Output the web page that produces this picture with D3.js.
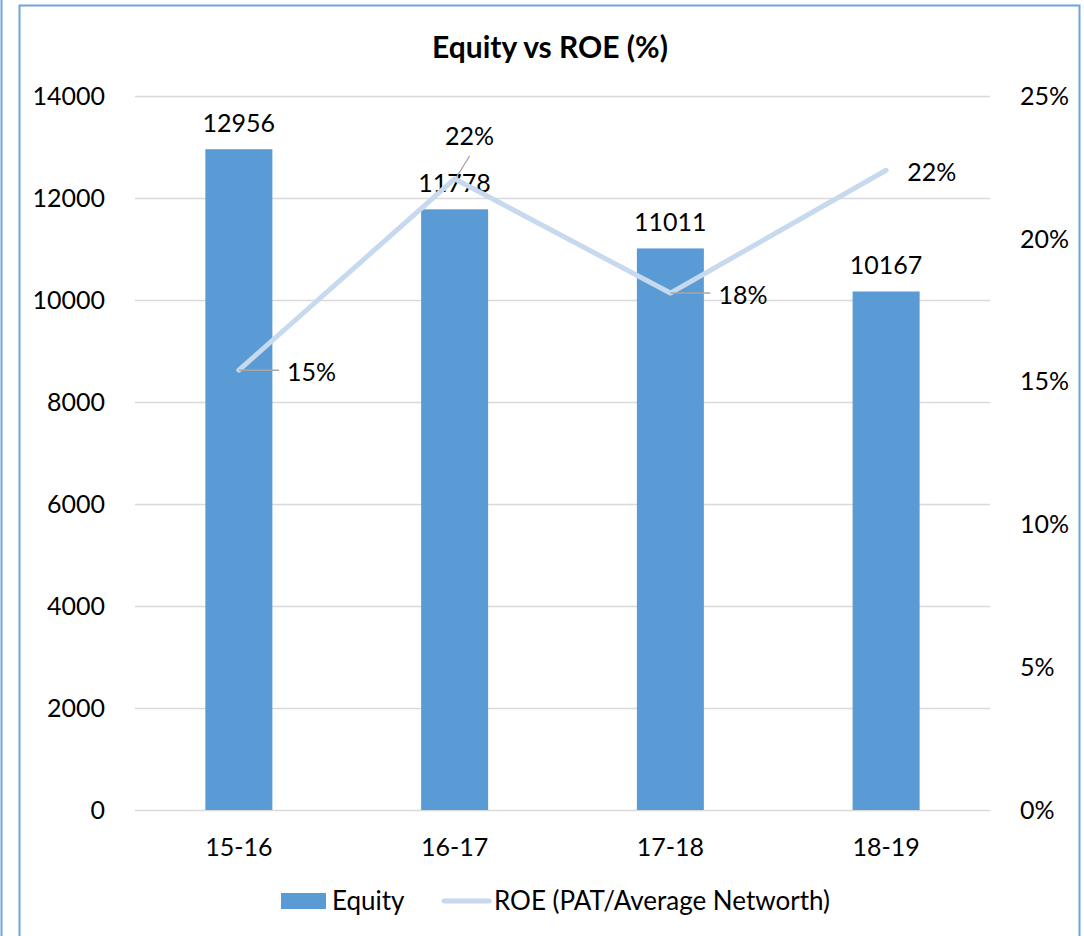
<!DOCTYPE html>
<html>
<head>
<meta charset="utf-8">
<script src="https://cdn.jsdelivr.net/npm/d3@7"></script>
<style>
  body { margin: 0; background: #fff; }
  text { font-family: Lato, "Open Sans", sans-serif; fill: #000; }
</style>
</head>
<body>
<div id="chart"></div>
<script>
var categories = ["15-16", "16-17", "17-18", "18-19"];
var equity = [12956, 11778, 11011, 10167];
var roe = [15.4, 22.1, 18.1, 22.4];
var roeLabels = ["15%", "22%", "18%", "22%"];
var leftTicks = [0, 2000, 4000, 6000, 8000, 10000, 12000, 14000];
var rightTicks = [0, 5, 10, 15, 20, 25];

var W = 1084, H = 936;
var margin = { top: 96, left: 131, right: 90, bottom: 126 };
var plotW = W - margin.left - margin.right;
var plotH = H - margin.top - margin.bottom;
var numSize = "25px";

var svg = d3.select("#chart").append("svg")
    .attr("width", W)
    .attr("height", H);

// frame lines
svg.append("line").attr("x1", 1.5).attr("x2", 1.5).attr("y1", 0).attr("y2", H)
    .attr("stroke", "#6fa3dc").attr("stroke-width", 2);
svg.append("path")
    .attr("d", "M19.5," + H + "V5.5H1079.5V" + H)
    .attr("fill", "none").attr("stroke", "#6fa3dc").attr("stroke-width", 2);

var x = d3.scaleBand().domain(categories).range([0, plotW]).paddingInner(0).paddingOuter(0);
var yL = d3.scaleLinear().domain([0, 14000]).range([plotH, 0]);
var yR = d3.scaleLinear().domain([0, 25]).range([plotH, 0]);

var g = svg.append("g").attr("transform", "translate(" + margin.left + "," + margin.top + ")");

// gridlines
g.selectAll(".grid").data(leftTicks).enter().append("line")
    .attr("x1", 4).attr("x2", plotW - 4)
    .attr("y1", function (d) { return Math.round(yL(d)) + 0.5; })
    .attr("y2", function (d) { return Math.round(yL(d)) + 0.5; })
    .attr("stroke", "#d9d9d9").attr("stroke-width", 1.3);

// left axis labels
g.selectAll(".lt").data(leftTicks).enter().append("text")
    .attr("x", -26).attr("y", function (d) { return yL(d); })
    .attr("dy", "0.35em").attr("text-anchor", "end")
    .style("font-size", numSize)
    .text(function (d) { return d; });

// right axis labels
g.selectAll(".rt").data(rightTicks).enter().append("text")
    .attr("x", plotW + 26).attr("y", function (d) { return yR(d); })
    .attr("dy", "0.35em").attr("text-anchor", "start")
    .style("font-size", numSize)
    .text(function (d) { return d + "%"; });

// category labels
g.selectAll(".ct").data(categories).enter().append("text")
    .attr("x", function (d) { return x(d) + x.bandwidth() / 2; })
    .attr("y", plotH + 46)
    .attr("text-anchor", "middle")
    .style("font-size", numSize)
    .text(function (d) { return d; });

// bars
var barW = 67;
g.selectAll(".bar").data(equity).enter().append("rect")
    .attr("x", function (d, i) { return x(categories[i]) + x.bandwidth() / 2 - barW / 2; })
    .attr("y", function (d) { return yL(d); })
    .attr("width", barW)
    .attr("height", function (d) { return plotH - yL(d); })
    .attr("fill", "#5b9bd5");

// bar labels
g.selectAll(".bl").data(equity).enter().append("text")
    .attr("x", function (d, i) { return x(categories[i]) + x.bandwidth() / 2; })
    .attr("y", function (d) { return yL(d) - 17; })
    .attr("text-anchor", "middle")
    .style("font-size", numSize)
    .text(function (d) { return d; });

// ROE line
var line = d3.line()
    .x(function (d, i) { return x(categories[i]) + x.bandwidth() / 2; })
    .y(function (d) { return yR(d); });

g.append("path").datum(roe)
    .attr("d", line)
    .attr("fill", "none")
    .attr("stroke", "#c6d9ee")
    .attr("stroke-width", 5)
    .attr("stroke-linecap", "round")
    .attr("stroke-linejoin", "round");

// ROE labels with leader lines (offsets from the point)
var labelOffsets = [[48, 2, "h"], [15, -43, "d"], [48, 2, "h"], [21, 2, "n"]];
roe.forEach(function (v, i) {
    var px = x(categories[i]) + x.bandwidth() / 2;
    var py = yR(v);
    var o = labelOffsets[i];
    if (o[2] === "h") {
        g.append("line").attr("x1", px).attr("x2", px + 40)
            .attr("y1", py).attr("y2", py)
            .attr("stroke", "#a6a6a6").attr("stroke-width", 1.5);
    } else if (o[2] === "d") {
        g.append("line").attr("x1", px + 2).attr("x2", px + 15)
            .attr("y1", py - 2).attr("y2", py - 23)
            .attr("stroke", "#a6a6a6").attr("stroke-width", 1.2);
    }
    g.append("text")
        .attr("x", px + o[0])
        .attr("y", py + o[1])
        .attr("dy", "0.35em")
        .attr("text-anchor", o[2] === "d" ? "middle" : "start")
        .style("font-size", numSize)
        .text(roeLabels[i]);
});

// title
svg.append("text")
    .attr("x", 550).attr("y", 58)
    .attr("text-anchor", "middle")
    .style("font-size", "30px").style("font-weight", "bold")
    .text("Equity vs ROE (%)");

// legend
var leg = svg.append("g").attr("transform", "translate(281,893)");
leg.append("rect").attr("x", 0).attr("y", 0).attr("width", 45).attr("height", 16).attr("fill", "#5b9bd5");
leg.append("text").attr("x", 51).attr("y", 8).attr("dy", "0.35em").style("font-size", "26px").text("Equity");
leg.append("line").attr("x1", 163).attr("x2", 208).attr("y1", 8).attr("y2", 8)
    .attr("stroke", "#c6d9ee").attr("stroke-width", 5).attr("stroke-linecap", "round");
leg.append("text").attr("x", 213).attr("y", 8).attr("dy", "0.35em").style("font-size", "26px").text("ROE (PAT/Average Networth)");
</script>
</body>
</html>
